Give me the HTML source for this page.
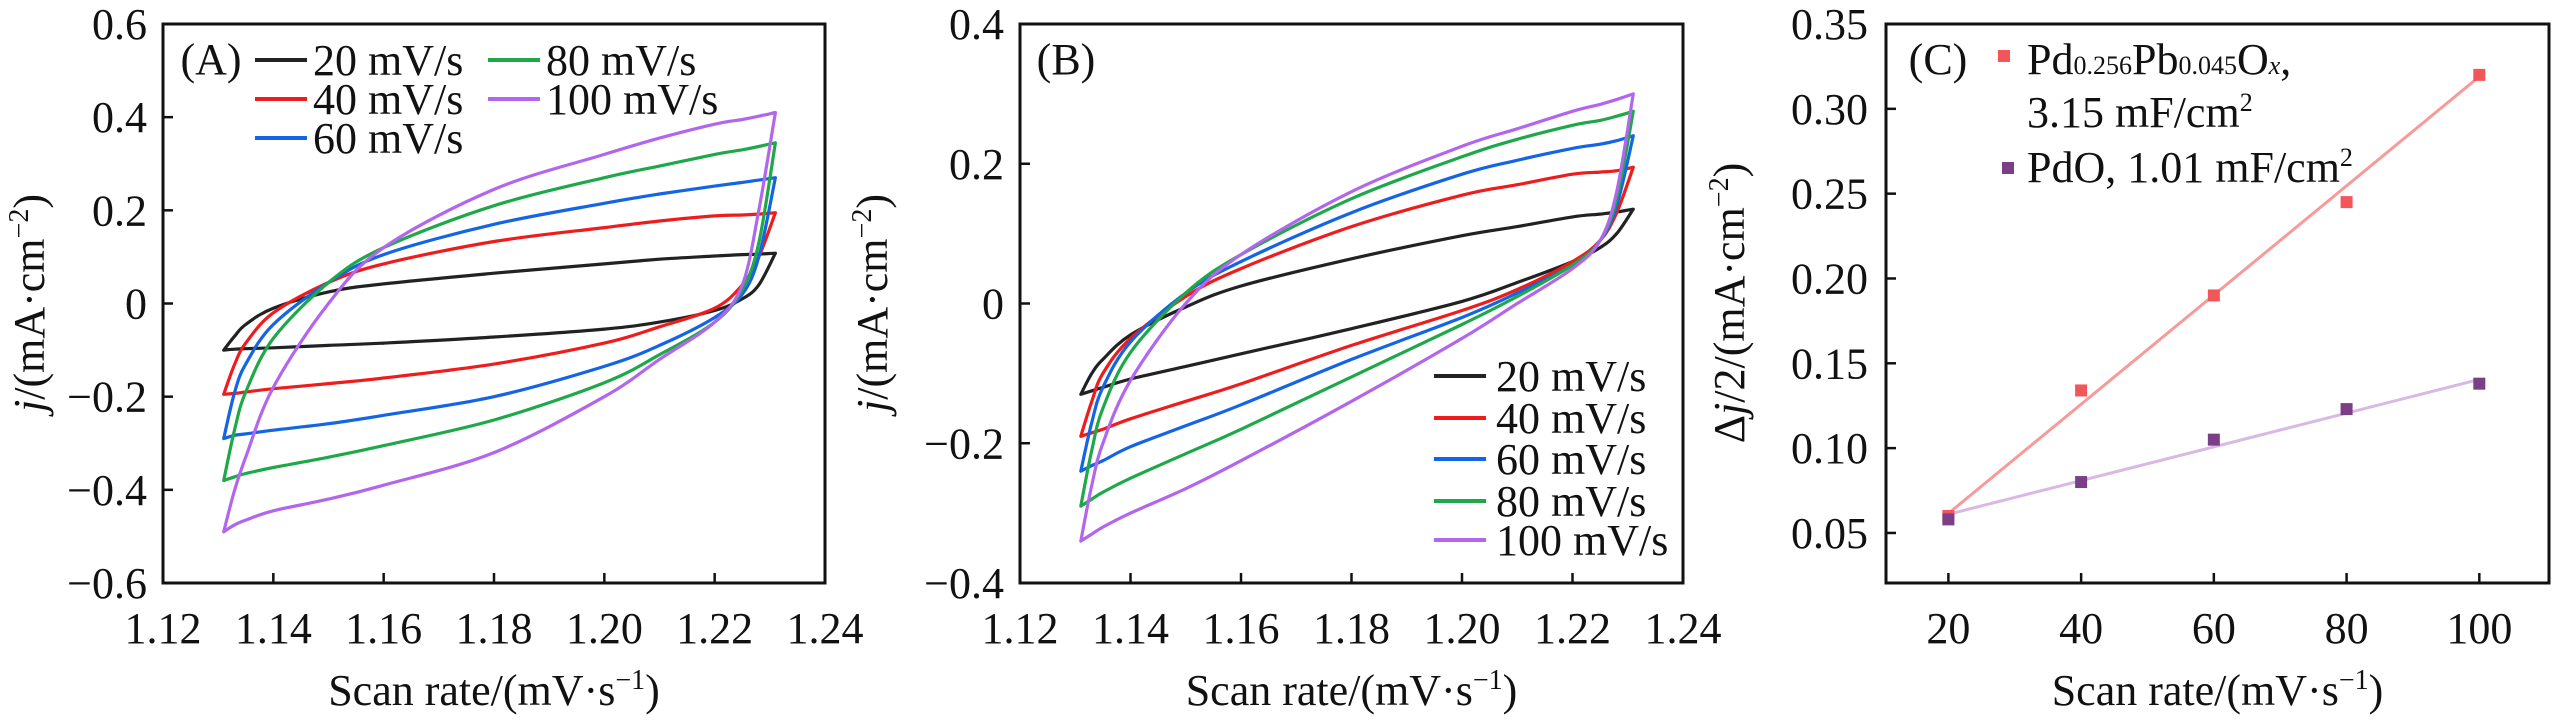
<!DOCTYPE html>
<html><head><meta charset="utf-8">
<style>
html,body{margin:0;padding:0;background:#fff;}
svg{display:block;}
svg text{font-family:"Liberation Serif","DejaVu Serif",serif;}
</style></head>
<body>
<svg id="fig" width="2567" height="724" viewBox="0 0 2567 724" xmlns="http://www.w3.org/2000/svg" font-family="Liberation Serif, DejaVu Serif, serif"></svg>
<script>
// ---------- data ----------
const cvX = [1.131,1.133,1.135,1.14,1.15,1.16,1.18,1.20,1.21,1.22,1.225,1.228,1.231];
const seriesNames = ["20 mV/s","40 mV/s","60 mV/s","80 mV/s","100 mV/s"];
const seriesColors = ["#222222","#ee1c1c","#1464e6","#1ea84a","#b266ee"];
// Panel A
const aUpper20 = [-0.10,-0.07,-0.045,-0.01,0.025,0.042,0.065,0.085,0.095,0.102,0.105,0.106,0.108];
const aLower20 = [-0.10,-0.098,-0.097,-0.095,-0.09,-0.085,-0.072,-0.055,-0.04,-0.015,0.01,0.04,0.108];
const aUpper40 = [-0.195,-0.13,-0.085,-0.02,0.045,0.085,0.133,0.163,0.177,0.188,0.19,0.192,0.195];
const aLower40 = [-0.195,-0.193,-0.19,-0.183,-0.172,-0.16,-0.13,-0.085,-0.05,-0.01,0.04,0.1,0.195];
const aUpper60 = [-0.29,-0.19,-0.13,-0.045,0.045,0.105,0.17,0.215,0.235,0.252,0.26,0.265,0.27];
const aLower60 = [-0.29,-0.283,-0.28,-0.272,-0.258,-0.24,-0.2,-0.135,-0.09,-0.03,0.02,0.1,0.27];
const aUpper80 = [-0.38,-0.27,-0.19,-0.075,0.045,0.12,0.21,0.27,0.295,0.32,0.33,0.337,0.345];
const aLower80 = [-0.38,-0.372,-0.365,-0.352,-0.33,-0.305,-0.25,-0.17,-0.11,-0.04,0.03,0.13,0.345];
const aUpper100 = [-0.49,-0.40,-0.33,-0.18,0.0,0.12,0.245,0.32,0.355,0.385,0.395,0.402,0.41];
const aLower100 = [-0.49,-0.475,-0.465,-0.445,-0.42,-0.39,-0.32,-0.2,-0.12,-0.04,0.04,0.2,0.41];
// Panel B
const bUpper20 = [-0.13,-0.1,-0.08,-0.045,-0.005,0.025,0.064,0.097,0.11,0.124,0.128,0.131,0.135];
const bLower20 = [-0.13,-0.125,-0.12,-0.108,-0.09,-0.072,-0.036,0.003,0.03,0.06,0.08,0.1,0.135];
const bUpper40 = [-0.19,-0.14,-0.1,-0.05,0.01,0.05,0.11,0.155,0.17,0.185,0.188,0.19,0.195];
const bLower40 = [-0.19,-0.185,-0.18,-0.165,-0.14,-0.115,-0.06,-0.01,0.02,0.06,0.09,0.13,0.195];
const bUpper60 = [-0.24,-0.17,-0.12,-0.055,0.015,0.06,0.13,0.185,0.205,0.222,0.228,0.233,0.24];
const bLower60 = [-0.24,-0.232,-0.225,-0.205,-0.175,-0.145,-0.08,-0.02,0.015,0.055,0.09,0.14,0.24];
const bUpper80 = [-0.29,-0.21,-0.15,-0.07,0.015,0.07,0.15,0.21,0.235,0.255,0.262,0.268,0.275];
const bLower80 = [-0.29,-0.28,-0.27,-0.25,-0.215,-0.18,-0.105,-0.03,0.01,0.055,0.09,0.15,0.275];
const bUpper100 = [-0.34,-0.26,-0.2,-0.11,0.0,0.07,0.16,0.225,0.25,0.275,0.285,0.292,0.30];
const bLower100 = [-0.34,-0.33,-0.32,-0.3,-0.265,-0.225,-0.14,-0.05,0.0,0.05,0.09,0.16,0.30];
// Panel C
const scanRates = [20,40,60,80,100];
const pdpbValues = [0.06,0.134,0.19,0.245,0.32];
const pdoValues = [0.058,0.080,0.105,0.123,0.138];
const pdpbFit = [0.0615,0.319];
const pdoFit = [0.061,0.1405];
// ticks
const cvXTicks = ["1.12","1.14","1.16","1.18","1.20","1.22","1.24"];
const aYTicks = ["0.6","0.4","0.2","0","-0.2","-0.4","-0.6"];
const bYTicks = ["0.4","0.2","0","-0.2","-0.4"];
const cXTicks = ["20","40","60","80","100"];
const cYTicks = ["0.05","0.10","0.15","0.20","0.25","0.30","0.35"];

// ---------- helpers ----------
const NS="http://www.w3.org/2000/svg";
const svg=document.getElementById('fig');
const FF='Liberation Serif, DejaVu Serif, serif';
function mk(tag,attrs,parent){const e=document.createElementNS(NS,tag);for(const k in attrs)e.setAttribute(k,attrs[k]);if(tag==='text')e.setAttribute('font-family',FF);(parent||svg).appendChild(e);return e;}
function lin(d0,d1,r0,r1){return v=>r0+(v-d0)*(r1-r0)/(d1-d0);}
const FS=44;
function txt(s,x,y,anchor,parent){const t=mk('text',{x:x,y:y,'text-anchor':anchor||'middle','font-size':FS,fill:'#111'},parent);t.textContent=s.replace('-','\u2212');return t;}
// smooth path through points (Catmull-Rom)
function smooth(pts){
  let d='M'+pts[0][0].toFixed(1)+','+pts[0][1].toFixed(1);
  for(let i=0;i<pts.length-1;i++){
    const p0=pts[Math.max(0,i-1)],p1=pts[i],p2=pts[i+1],p3=pts[Math.min(pts.length-1,i+2)];
    const c1=[p1[0]+(p2[0]-p0[0])/6,p1[1]+(p2[1]-p0[1])/6];
    const c2=[p2[0]-(p3[0]-p1[0])/6,p2[1]-(p3[1]-p1[1])/6];
    d+='C'+c1[0].toFixed(1)+','+c1[1].toFixed(1)+' '+c2[0].toFixed(1)+','+c2[1].toFixed(1)+' '+p2[0].toFixed(1)+','+p2[1].toFixed(1);
  }
  return d;
}

function frame(g,L,R,T,B){
  const r=mk('rect',{x:L,y:T,width:R-L,height:B-T,fill:'none',stroke:'#111','stroke-width':3},g);
  
  
}
function yTitle(g,cx,cy,prefix){
  const t=mk('text',{transform:`translate(${cx},${cy}) rotate(-90)`,'text-anchor':'middle','font-size':FS,fill:'#111'},g);
  
  
  if(prefix){const p=mk('tspan',{},t);p.textContent=prefix;}
  const j=mk('tspan',{'font-style':'italic'},t);j.textContent='j';
  const a=mk('tspan',{},t);a.textContent=(prefix?'/2':'')+'/(mA\u00B7cm';
  const s=mk('tspan',{'font-size':28,dy:-16},t);s.textContent='\u22122';
  const c=mk('tspan',{dy:16},t);c.textContent=')';
}
function xTitle(g,cx,cy){
  const t=mk('text',{x:cx,y:cy,'text-anchor':'middle','font-size':FS,fill:'#111'},g);
  
  
  const a=mk('tspan',{},t);a.textContent='Scan rate/(mV\u00B7s';
  const s=mk('tspan',{'font-size':28,dy:-16},t);s.textContent='\u22121';
  const c=mk('tspan',{dy:16},t);c.textContent=')';
}

function cvPanel(id,L,R,T,B,yMin,yMax,yTicks,uppers,lowers){
  const g=mk('g',{});
  
  
  const X=lin(1.12,1.24,L,R), Y=lin(yMin,yMax,B,T);
  for(let s=0;s<uppers.length;s++){
    const up=cvX.map((x,i)=>[X(x),Y(uppers[s][i])]);
    const lo=cvX.map((x,i)=>[X(x),Y(lowers[s][i])]).reverse();
    const d=smooth(up)+smooth(lo).replace(/^M/,'L')+'Z';
    const p=mk('path',{d:d,fill:'none',stroke:seriesColors[s],'stroke-width':3.2,'stroke-linejoin':'round'},g);
    
    
  }
  frame(g,L,R,T,B);
  cvXTicks.forEach(t=>{
    const v=parseFloat(t),x=X(v);
    if(v>1.12&&v<1.24){const l=mk('line',{x1:x,x2:x,y1:B,y2:B-10,stroke:'#111','stroke-width':2.5},g);
      }
    const tt=txt(t,x,B+60,'middle',g);
    
    
  });
  yTicks.forEach(t=>{
    const v=parseFloat(t),y=Y(v);
    if(v>yMin&&v<yMax){const l=mk('line',{x1:L,x2:L+10,y1:y,y2:y,stroke:'#111','stroke-width':2.5},g);
      }
    const tt=txt(t,L-16,y+15,'end',g);
    
    
  });
  xTitle(g,(L+R)/2,705);
  return g;
}

// Panel A
const gA=cvPanel('a',163,825,24,583,-0.6,0.6,aYTicks,
  [aUpper20,aUpper40,aUpper60,aUpper80,aUpper100],[aLower20,aLower40,aLower60,aLower80,aLower100]);
yTitle(gA,44,303);
{const t=txt('(A)',211,74,'middle',gA);}
const legA=[[255,60],[255,99],[255,138],[488,60],[488,99]];
seriesNames.forEach((n,i)=>{
  const [x,y]=legA[i];
  const l=mk('line',{x1:x,x2:x+52,y1:y,y2:y,stroke:seriesColors[i],'stroke-width':4},gA);
  
  const t=txt(n,x+58,y+15,'start',gA);
  
});

// Panel B
const gB=cvPanel('b',1020,1683,24,583,-0.4,0.4,bYTicks,
  [bUpper20,bUpper40,bUpper60,bUpper80,bUpper100],[bLower20,bLower40,bLower60,bLower80,bLower100]);
yTitle(gB,887,303);
{const t=txt('(B)',1066,74,'middle',gB);}
const legBY=[376,418,459,501,540];
seriesNames.forEach((n,i)=>{
  const y=legBY[i];
  const l=mk('line',{x1:1434,x2:1486,y1:y,y2:y,stroke:seriesColors[i],'stroke-width':4},gB);
  
  const t=txt(n,1496,y+15,'start',gB);
  
});

// Panel C
(function(){
  const L=1886,R=2549,T=24,B=583;
  const g=mk('g',{});
  
  
  const X=lin(10.6,110.5,L,R), Y=lin(0.0205,0.35,B,T);
  function fitLine(fit,color,name){
    const l=mk('line',{x1:X(scanRates[0]),y1:Y(fit[0]),x2:X(scanRates[scanRates.length-1]),y2:Y(fit[1]),stroke:color,'stroke-width':3},g);
    
  }
  fitLine(pdpbFit,'#f69a9a','fit-line-pdpbox');
  fitLine(pdoFit,'#d9b8e6','fit-line-pdo');
  function pts(vals,color,name){
    vals.forEach((v,i)=>{
      const r=mk('rect',{x:X(scanRates[i])-6,y:Y(v)-6,width:12,height:12,fill:color},g);
      
    });
  }
  pts(pdpbValues,'#f2555a','point-pdpbox');
  pts(pdoValues,'#7a3f86','point-pdo');
  frame(g,L,R,T,B);
  cXTicks.forEach(t=>{
    const x=X(parseFloat(t));
    const l=mk('line',{x1:x,x2:x,y1:B,y2:B-10,stroke:'#111','stroke-width':2.5},g);
    
    const tt=txt(t,x,B+60,'middle',g);
    
  });
  cYTicks.forEach(t=>{
    const v=parseFloat(t),y=Y(v);
    if(v<0.349){const l=mk('line',{x1:L,x2:L+10,y1:y,y2:y,stroke:'#111','stroke-width':2.5},g);
      }
    const tt=txt(t,L-18,y+15,'end',g);
    
  });
  yTitle(g,1744,303,'\u0394');
  xTitle(g,(L+R)/2,705);
  const pl=txt('(C)',1938,74,'middle',g);
  const m1=mk('rect',{x:1998,y:50,width:12,height:12,fill:'#f2555a'},g);
  
  const t1=mk('text',{x:2027,y:74,'font-size':FS,fill:'#111'},g);
  
  [['Pd',{}],['0.256',{'font-size':26}],['Pb',{}],['0.045',{'font-size':26}],['O',{}],['x',{'font-size':26,'font-style':'italic'}],[',',{}]].forEach(([s,a])=>{const sp=mk('tspan',a,t1);sp.textContent=s;});
  const t2=mk('text',{x:2027,y:127,'font-size':FS,fill:'#111'},g);
  
  {const a=mk('tspan',{},t2);a.textContent='3.15 mF/cm';const s=mk('tspan',{'font-size':26,dy:-16},t2);s.textContent='2';}
  const m2=mk('rect',{x:2002,y:162,width:12,height:12,fill:'#7a3f86'},g);
  
  const t3=mk('text',{x:2027,y:182,'font-size':FS,fill:'#111'},g);
  
  {const a=mk('tspan',{},t3);a.textContent='PdO, 1.01 mF/cm';const s=mk('tspan',{'font-size':26,dy:-16},t3);s.textContent='2';}
})();
</script>
</body></html>
